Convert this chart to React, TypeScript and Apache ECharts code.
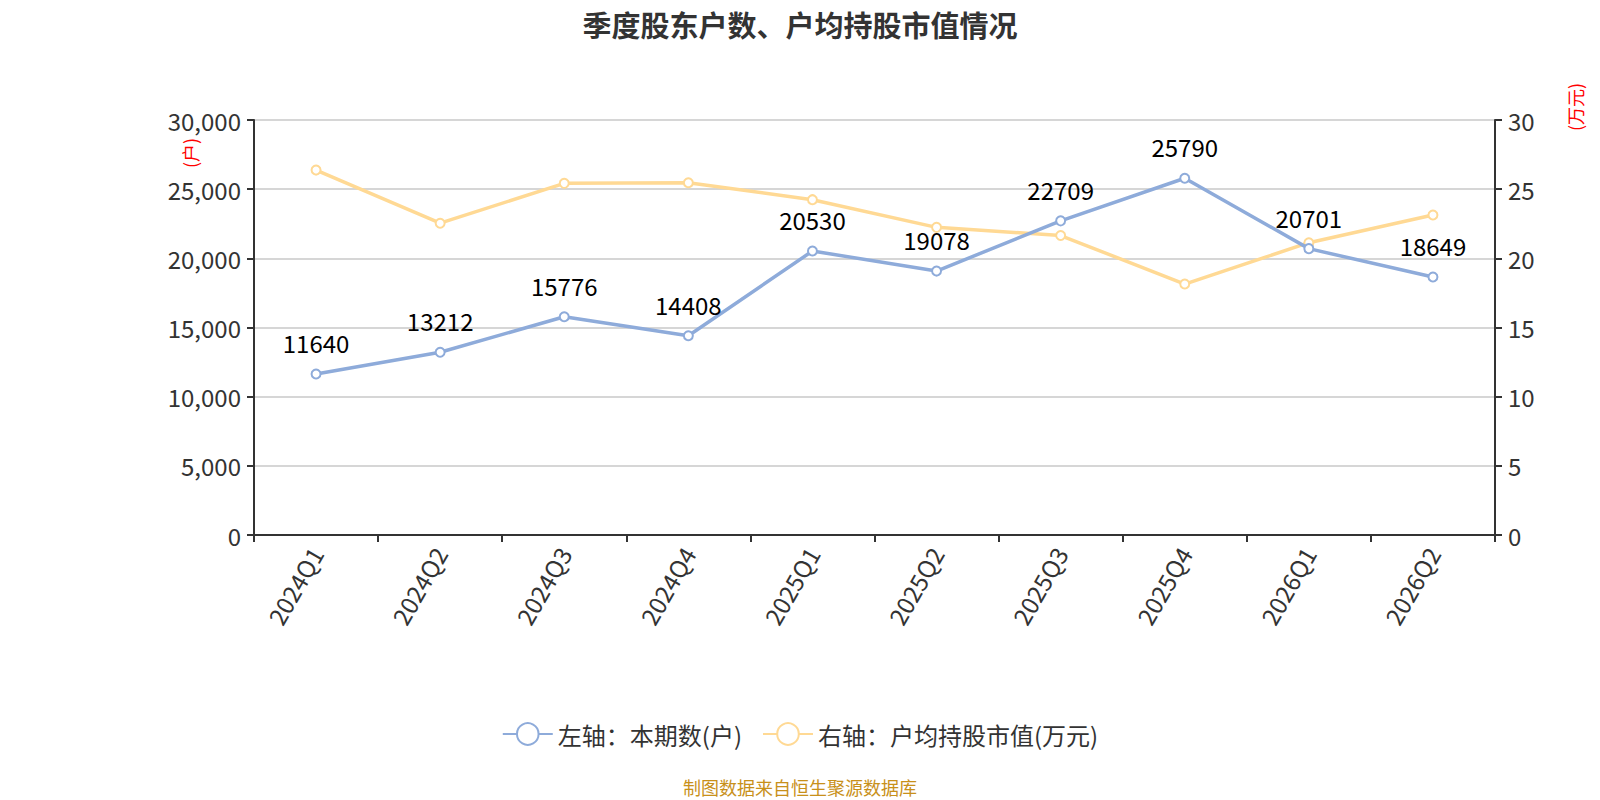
import React, { useEffect, useRef } from "react";
import * as echarts from "echarts";

const categories = ["2024Q1", "2024Q2", "2024Q3", "2024Q4", "2025Q1", "2025Q2", "2025Q3", "2025Q4", "2026Q1", "2026Q2"];
const holders = [11640, 13212, 15776, 14408, 20530, 19078, 22709, 25790, 20701, 18649];
const avgValue = [26.38, 22.54, 25.42, 25.46, 24.24, 22.24, 21.65, 18.14, 21.13, 23.13];
const leftTicks = [0, 5000, 10000, 15000, 20000, 25000, 30000];
const rightTicks = [0, 5, 10, 15, 20, 25, 30];

const BLUE = "#8eabda";
const ORANGE = "#ffd994";

export default function App() {
  const ref = useRef<HTMLDivElement>(null);
  useEffect(() => {
    if (!ref.current) return;
    const chart = echarts.init(ref.current, null, { renderer: "svg" });
    const font = "'Noto Sans CJK SC', 'Noto Sans', sans-serif";
    chart.setOption({
      animation: false,
      textStyle: { fontFamily: font },
      title: {
        text: "季度股东户数、户均持股市值情况",
        left: "center",
        top: 4,
        textStyle: { fontSize: 29, fontWeight: "bold", color: "#333", fontFamily: font },
      },
      grid: { left: 254, right: 105, top: 120, bottom: 265, containLabel: false },
      legend: {
        top: 717,
        left: "center",
        itemWidth: 50,
        itemHeight: 27,
        itemGap: 20,
        textStyle: { fontSize: 24, color: "#333" },
        data: ["左轴：本期数(户)", "右轴：户均持股市值(万元)"],
      },
      xAxis: {
        type: "category",
        data: categories,
        boundaryGap: true,
        axisLine: { lineStyle: { color: "#333", width: 2 } },
        axisTick: { show: true, alignWithLabel: false, length: 7, lineStyle: { color: "#333", width: 2 } },
        axisLabel: { rotate: 60, fontSize: 24, color: "#333", margin: 14 },
      },
      yAxis: [
        {
          type: "value",
          min: leftTicks[0],
          max: leftTicks[leftTicks.length - 1],
          interval: leftTicks[1] - leftTicks[0],
          axisLine: { show: true, lineStyle: { color: "#333", width: 2 } },
          axisTick: { show: true, length: 7, lineStyle: { color: "#333", width: 2 } },
          axisLabel: {
            fontSize: 24,
            color: "#333",
            margin: 13,
            formatter: (v: number) => v.toLocaleString("en-US"),
          },
          splitLine: { show: true, lineStyle: { color: "#c8c8c8", width: 1.5 } },
        },
        {
          type: "value",
          min: rightTicks[0],
          max: rightTicks[rightTicks.length - 1],
          interval: rightTicks[1] - rightTicks[0],
          axisLine: { show: true, lineStyle: { color: "#333", width: 2 } },
          axisTick: { show: true, length: 7, lineStyle: { color: "#333", width: 2 } },
          axisLabel: { fontSize: 24, color: "#333", margin: 13 },
          splitLine: { show: false },
        },
      ],
      graphic: [
        {
          type: "text",
          x: 190,
          y: 153,
          rotation: Math.PI / 2,
          style: { text: "(户)", fontSize: 18, fill: "#ff0000", align: "center", verticalAlign: "middle", fontFamily: font },
        },
        {
          type: "text",
          x: 1575,
          y: 107,
          rotation: Math.PI / 2,
          style: { text: "(万元)", fontSize: 18, fill: "#ff0000", align: "center", verticalAlign: "middle", fontFamily: font },
        },
        {
          type: "text",
          x: 800,
          y: 787,
          style: { text: "制图数据来自恒生聚源数据库", fontSize: 18, fill: "#c8901a", align: "center", verticalAlign: "middle", fontFamily: font },
        },
      ],
      series: [
        {
          name: "左轴：本期数(户)",
          type: "line",
          yAxisIndex: 0,
          data: holders,
          symbol: "emptyCircle",
          symbolSize: 9,
          lineStyle: { color: BLUE, width: 3.5 },
          itemStyle: { color: BLUE, borderWidth: 1.5 },
          label: { show: true, position: "top", distance: 14, fontSize: 24, color: "#000" },
          z: 3,
        },
        {
          name: "右轴：户均持股市值(万元)",
          type: "line",
          yAxisIndex: 1,
          data: avgValue,
          symbol: "emptyCircle",
          symbolSize: 9,
          lineStyle: { color: ORANGE, width: 3.5 },
          itemStyle: { color: ORANGE, borderWidth: 1.5 },
          label: { show: false },
          z: 2,
        },
      ],
    });
    return () => chart.dispose();
  }, []);
  return <div ref={ref} style={{ position: "absolute", left: 0, top: 0, width: 1600, height: 800 }} />;
}
